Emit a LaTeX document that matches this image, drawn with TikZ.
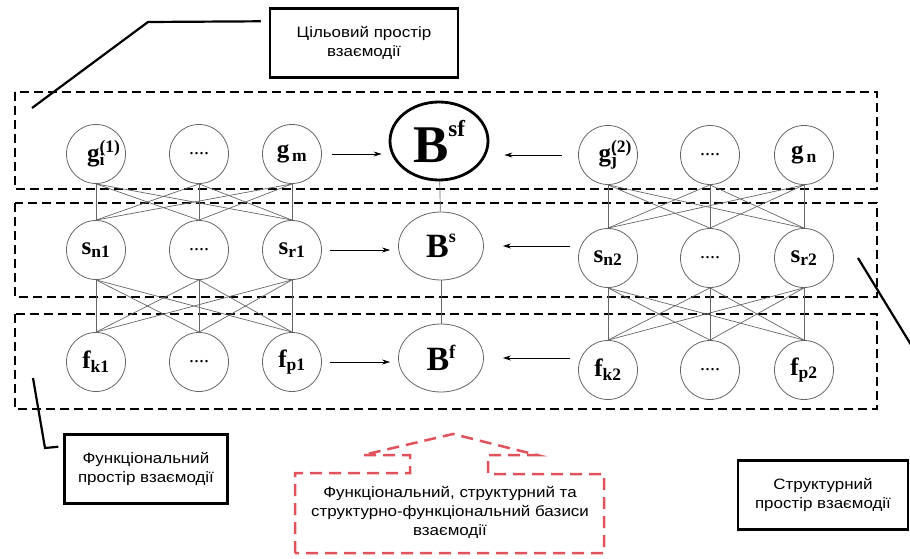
\documentclass[tikz,border=0pt]{standalone}
\usepackage{fontspec}
\setmainfont{Liberation Serif}
\newfontfamily\boxfont[FakeStretch=1.13]{Liberation Sans}
\usetikzlibrary{shapes.geometric}
\usetikzlibrary{arrows.meta}
\definecolor{calloutred}{RGB}{226,82,92}

% labels of the nodes
\newcommand{\nsub}[2]{#1\textsubscript{#2}}
\newcommand{\nboth}[3]{#1\rlap{\textsuperscript{#3}}\textsubscript{#2}}
\newcommand{\bsup}[5]{{\fontsize{#2}{#2}\selectfont #1}\raisebox{#5pt}{\fontsize{#4}{#4}\selectfont #3}}

\begin{document}
\begin{tikzpicture}[x=1pt,y=-1pt,
    vertex/.style={circle, draw=black!60, line width=0.8pt, minimum size=59pt, inner sep=0pt,
      font=\fontsize{25}{25}\selectfont\bfseries},
    dots/.style={vertex, font=\fontsize{20}{20}\selectfont},
    basis/.style={ellipse, draw=black!60, line width=0.8pt, minimum width=85pt, minimum height=68pt,
      inner sep=0pt, font=\bfseries},
    link/.style={draw=black!60, line width=0.7pt},
    feed/.style={-{Stealth[length=8pt,width=5pt]}, line width=0.8pt},
    zone/.style={draw, line width=1.8pt, dash pattern=on 9pt off 5pt},
    labelbox/.style={draw, line width=2.5pt, fill=white, align=center, inner sep=0pt,
      font=\boxfont\fontsize{15}{19}\selectfont, minimum height=69pt},
    callout/.style={line width=2.2pt},
    redzone/.style={draw=calloutred, line width=2.5pt, dash pattern=on 12pt off 7pt}]
  \useasboundingbox (0,0) rectangle (910,559);

  % spaces of interaction
  \draw[zone] (15,92) rectangle (877,189);
  \draw[zone] (15,203) rectangle (877,297);
  \draw[zone] (15,314) rectangle (877,409);

  % left group
  \node[vertex] (gi) at (96,154) {\nboth{g}{i}{(1)}};
  \node[dots] (gdl) at (199,154) {....};
  \node[vertex] (gm) at (292,154) {\nsub{g}{\,m}};
  \node[vertex] (sn1) at (96,250) {\nsub{s}{n1}};
  \node[dots] (sdl1) at (199,250) {....};
  \node[vertex] (sr1) at (292,250) {\nsub{s}{r1}};
  \node[vertex] (fk1) at (96,362) {\nsub{f}{k1}};
  \node[dots] (fdl1) at (199,362) {....};
  \node[vertex] (fp1) at (292,362) {\nsub{f}{p1}};

  % right group
  \node[vertex] (gj) at (608,155) {\nboth{g}{j}{(2)}};
  \node[dots] (gdr) at (710,155) {....};
  \node[vertex] (gn) at (804,155) {\nsub{g}{\,n}};
  \node[vertex] (sn2) at (608,258) {\nsub{s}{n2}};
  \node[dots] (sdr2) at (710,258) {....};
  \node[vertex] (sr2) at (804,258) {\nsub{s}{r2}};
  \node[vertex] (fk2) at (608,370) {\nsub{f}{k2}};
  \node[dots] (fdr2) at (710,370) {....};
  \node[vertex] (fp2) at (804,370) {\nsub{f}{p2}};

  % bases
  \node[basis, draw=black, line width=2.8pt, minimum width=98pt, minimum height=78pt] (Bsf) at (439,141)
    {\bsup{B}{53}{sf}{23}{26}};
  \node[basis] (Bs) at (441,246) {\bsup{B}{34}{s}{18}{15}};
  \node[basis] (Bf) at (441,358) {\bsup{B}{34}{f}{19}{12}};

  % links between levels
  \foreach \a in {gi,gdl,gm}
    \foreach \b in {sn1,sdl1,sr1}
      \draw[link] (\a.south) -- (\b.north);
  \foreach \a in {sn1,sdl1,sr1}
    \foreach \b in {fk1,fdl1,fp1}
      \draw[link] (\a.south) -- (\b.north);
  \foreach \a in {gj,gdr,gn}
    \foreach \b in {sn2,sdr2,sr2}
      \draw[link] (\a.south) -- (\b.north);
  \foreach \a in {sn2,sdr2,sr2}
    \foreach \b in {fk2,fdr2,fp2}
      \draw[link] (\a.south) -- (\b.north);
  \draw[link] (Bsf) -- (Bs);
  \draw[link] (Bs) -- (Bf);

  % arrows to the bases
  \draw[feed] ([xshift=10pt]gm.east) -- ([xshift=-7pt]gm.east -| Bsf.west);
  \draw[feed] ([xshift=8pt]sr1.east) -- ([xshift=-8pt]sr1.east -| Bs.west);
  \draw[feed] ([xshift=8pt]fp1.east) -- ([xshift=-8pt]fp1.east -| Bf.west);
  \draw[feed] ([xshift=-16pt]gj.west) -- ([xshift=15pt]gj.west -| Bsf.east);
  \draw[feed] ([xshift=-8pt]Bs.east -| sn2.west) -- ([xshift=19pt]Bs.east);
  \draw[feed] ([xshift=-8pt]Bf.east -| fk2.west) -- ([xshift=19pt]Bf.east);

  % captions
  \node[labelbox, minimum width=188pt] (goalbox) at (364,43) {Цільовий простір\\взаємодії};
  \node[labelbox, minimum width=163pt] (funcbox) at (146,469) {Функціональний\\простір взаємодії};
  \node[labelbox, minimum width=170pt] (strbox) at (823,495) {Структурний\\простір взаємодії};
  \coordinate (goalbend) at (148,22);
  \coordinate (goaltip) at (32,108);
  \coordinate (funcbend) at (45,448);
  \coordinate (functip) at (33,378);
  \coordinate (strtip) at (858,258);
  \coordinate (strend) at (935,384);
  \draw[callout, shorten <=8pt] (goalbox.north west) ++(0,14) -- (goalbend) -- (goaltip);
  \draw[callout, shorten <=5pt] (funcbox.north west) ++(0,13) -- (funcbend) -- (functip);
  \draw[callout] (strtip) -- (strend);

  % bases callout
  \draw[redzone] (295,553) -- (295,473) -- (410,473) -- (410,455) -- (363,455) -- (453,434)
    -- (537,455) -- (488,455) -- (488,474) -- (604,474) -- (604,553) -- cycle;
  \node[align=center, font=\boxfont\fontsize{15}{19}\selectfont] (bastext) at (450,512)
    {Функціональний, структурний та\\структурно-функціональний базиси\\взаємодії};
\end{tikzpicture}
\end{document}
